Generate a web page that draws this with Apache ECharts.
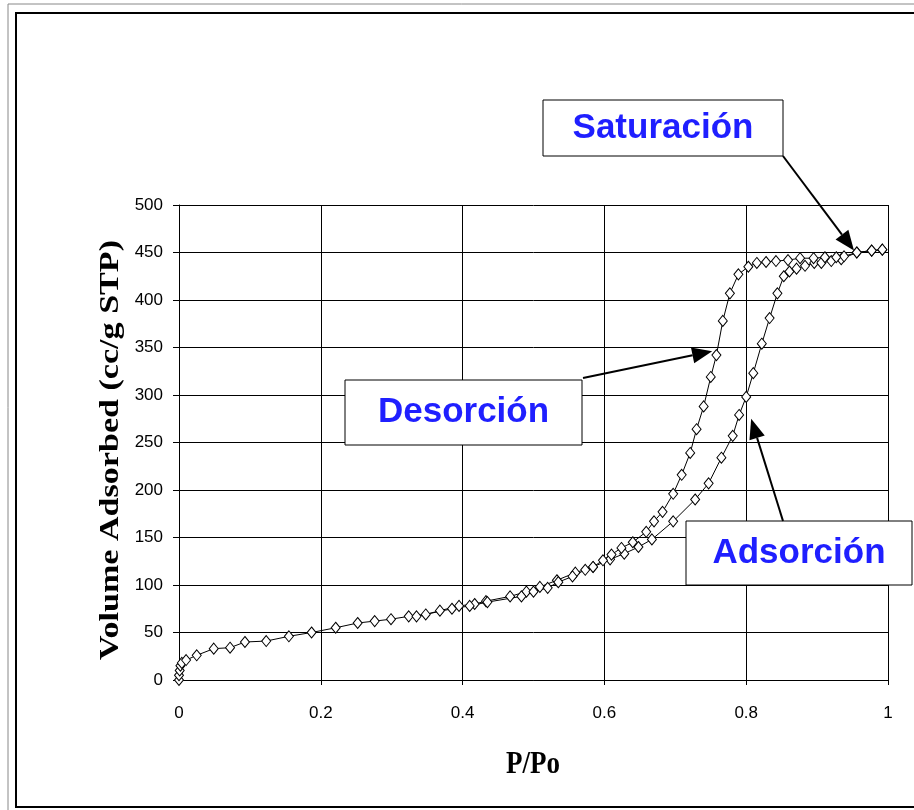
<!DOCTYPE html>
<html><head><meta charset="utf-8">
<script src="https://cdn.jsdelivr.net/npm/echarts@6/dist/echarts.min.js"></script>
<style>html,body{margin:0;padding:0;background:#fff}#c{width:914px;height:810px}</style>
</head><body><div id="c"></div>
<script>
var xTicks = [0, 0.2, 0.4, 0.6, 0.8, 1];
var yTicks = [0, 50, 100, 150, 200, 250, 300, 350, 400, 450, 500];
var adsorption = [[0,0],[0.0,5],[0.001,10],[0.002,15],[0.004,18],[0.01,21],[0.025,26],[0.049,33],[0.072,34],[0.093,40],[0.123,41],[0.155,46],[0.187,50],[0.221,55],[0.252,60],[0.276,62],[0.299,64],[0.324,67],[0.348,69],[0.368,73],[0.395,78],[0.417,80],[0.433,83],[0.467,88],[0.490,93],[0.509,98],[0.533,105],[0.559,113],[0.584,119],[0.608,127],[0.628,133],[0.648,140],[0.667,148],[0.697,167],[0.728,190],[0.747,207],[0.765,234],[0.781,257],[0.790,279],[0.800,298],[0.810,323],[0.822,354],[0.833,381],[0.844,407],[0.853,425],[0.861,430],[0.871,433],[0.883,436],[0.896,439],[0.906,439],[0.920,441],[0.934,443],[0.956,450],[0.977,452],[0.992,453]];
var desorption = [[0.992,453],[0.977,452],[0.956,450],[0.938,446],[0.927,445],[0.911,445],[0.895,444],[0.876,444],[0.859,442],[0.842,441],[0.828,440],[0.815,439],[0.803,435],[0.789,427],[0.777,407],[0.767,378],[0.758,342],[0.750,319],[0.740,288],[0.730,264],[0.721,239],[0.709,216],[0.697,196],[0.682,177],[0.670,167],[0.659,156],[0.640,145],[0.624,139],[0.610,132],[0.598,126],[0.584,119],[0.573,116],[0.555,109],[0.535,103],[0.520,97],[0.500,93],[0.483,88],[0.435,82],[0.410,78],[0.385,75],[0.335,67]];
var labels = {sat: 'Saturación', des: 'Desorción', ads: 'Adsorción'};
var xTitle = 'P/Po', yTitle = 'Volume Adsorbed (cc/g STP)';

var chart = echarts.init(document.getElementById('c'));
var ser = function (d) {
  return {type: 'line', data: d, symbol: 'diamond', symbolSize: [9, 11], showAllSymbol: true,
    lineStyle: {color: '#000', width: 1}, itemStyle: {color: '#fff', borderColor: '#000', borderWidth: 1},
    animation: false, z: 3};
};
chart.setOption({
  animation: false,
  grid: {left: 179, right: 26, top: 205, bottom: 130},
  xAxis: {type: 'value', min: 0, max: 1, interval: 0.2,
    axisLine: {lineStyle: {color: '#000', width: 1}},
    axisTick: {show: true, length: 5, lineStyle: {color: '#000'}},
    axisLabel: {fontFamily: 'Liberation Sans', fontSize: 17, color: '#000', margin: 25,
      formatter: function (v) { return String(+v.toFixed(1)); }},
    splitLine: {show: true, lineStyle: {color: '#000', width: 1}}},
  yAxis: {type: 'value', min: 0, max: 500, interval: 50,
    axisLine: {show: true, lineStyle: {color: '#000', width: 1}},
    axisTick: {show: true, length: 6, lineStyle: {color: '#000'}},
    axisLabel: {fontFamily: 'Liberation Sans', fontSize: 17, color: '#000', margin: 16},
    splitLine: {show: true, lineStyle: {color: '#000', width: 1}}},
  series: [ser(adsorption), ser(desorption)]
});

function arrow(x1, y1, x2, y2) {
  var dx = x2 - x1, dy = y2 - y1, L = Math.sqrt(dx * dx + dy * dy);
  var ux = dx / L, uy = dy / L, len = 20, w = 8;
  var bx = x2 - ux * len, by = y2 - uy * len;
  return [
    {type: 'line', z: 10, shape: {x1: x1, y1: y1, x2: bx, y2: by}, style: {stroke: '#000', lineWidth: 2}},
    {type: 'polygon', z: 10, shape: {points: [[x2, y2], [bx - uy * w, by + ux * w], [bx + uy * w, by - ux * w]]}, style: {fill: '#000'}}
  ];
}
function box(x, y, w, h, t) {
  return [
    {type: 'rect', z: 9, shape: {x: x, y: y, width: w, height: h}, style: {fill: '#fff', stroke: '#000', lineWidth: 1}},
    {type: 'text', z: 11, x: x + w / 2, y: y + h / 2, style: {text: t, fill: '#1f1fff', font: 'bold 35px "Liberation Sans", Arial', align: 'center', verticalAlign: 'middle'}}
  ];
}
var ctx = document.createElement('canvas').getContext('2d');
var yFont = 'bold 27px "Liberation Serif"';
ctx.font = yFont;
var yScale = 420 / ctx.measureText(yTitle).width;

var pSat = chart.convertToPixel({gridIndex: 0}, [0.952, 452]);
var pDes = chart.convertToPixel({gridIndex: 0}, [0.752, 346]);
var pAds = chart.convertToPixel({gridIndex: 0}, [0.807, 275]);
var g = [
  {type: 'rect', z: 1, shape: {x: 8, y: 4, width: 920, height: 820}, style: {fill: 'none', stroke: '#888', lineWidth: 1}},
  {type: 'rect', z: 1, shape: {x: 16, y: 13, width: 920, height: 794}, style: {fill: 'none', stroke: '#000', lineWidth: 2}},
  {type: 'text', z: 5, x: 111, y: 450, rotation: Math.PI / 2, scaleX: yScale, scaleY: 1,
    style: {text: yTitle, font: yFont, fill: '#000', align: 'center', verticalAlign: 'middle'}},
  {type: 'text', z: 5, x: 533, y: 765, scaleX: 1, scaleY: 1.2,
    style: {text: xTitle, font: 'bold 27px "Liberation Serif"', fill: '#000', align: 'center', verticalAlign: 'middle'}}
];
g = g.concat(arrow(783, 156, pSat[0], pSat[1]), arrow(583, 378, pDes[0], pDes[1]), arrow(783, 521, pAds[0], pAds[1]));
g = g.concat(box(543, 100, 240, 56, labels.sat), box(345, 380, 237, 65, labels.des), box(686, 521, 226, 64, labels.ads));
chart.setOption({graphic: g});
</script></body></html>
